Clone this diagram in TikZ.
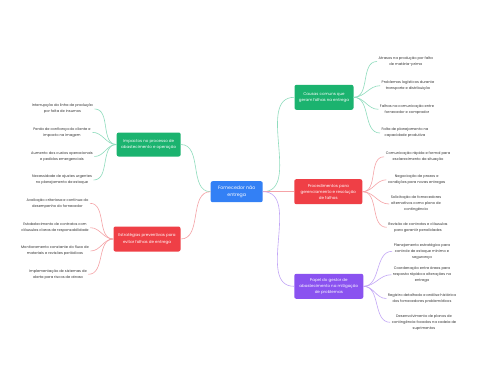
\documentclass[tikz,border=0pt]{standalone}
\usepackage{fontspec}
\setmainfont{Poppins}
\definecolor{cblue}{HTML}{3380F5}
\definecolor{cgreen}{HTML}{1BB36F}
\definecolor{cred}{HTML}{EF3F46}
\definecolor{cpurple}{HTML}{8A52F0}
\definecolor{lgreen}{HTML}{8FDCBD}
\definecolor{lred}{HTML}{F5A3A7}
\definecolor{lpurple}{HTML}{C2A6F6}
\definecolor{ltext}{HTML}{333333}
\begin{document}
\begin{tikzpicture}[x=1pt,y=-1pt,
  box/.style={rounded corners=2pt,text=white,align=center,inner sep=0pt,
    font=\fontsize{4}{6.2}\selectfont},
  leaf/.style={text=ltext,align=center,inner sep=1.5pt,
    font=\fontsize{3.6}{6}\selectfont},
  conn/.style={line width=0.6pt},
]
\useasboundingbox[fill=white] (0,0) rectangle (480,384);
% center
\node[box,fill=cblue,minimum width=52pt,minimum height=21pt,
  font=\fontsize{4.7}{6.7}\selectfont] (c) at (236.7,191.7) {Fornecedor não\\entrega};
% branches
\node[box,fill=cgreen,minimum width=64pt,minimum height=24pt] (gl) at (148.7,144.5)
  {Impactos no processo de\\abastecimento e operação};
\node[box,fill=cred,minimum width=67pt,minimum height=25pt] (rl) at (147,239)
  {Estratégias preventivas para\\evitar falhas de entrega};
\node[box,fill=cgreen,minimum width=59pt,minimum height=25pt] (gr) at (324,97.3)
  {Causas comuns que\\geram falhas na entrega};
\node[box,fill=cred,minimum width=68pt,minimum height=25pt] (rr) at (328.3,191.7)
  {Procedimentos para\\gerenciamento e resolução\\de falhas};
\node[box,fill=cpurple,minimum width=69pt,minimum height=25pt] (pr) at (328.8,286.3)
  {Papel do gestor de\\abastecimento na mitigação\\de problemas};
% center connectors
\draw[conn,lgreen] (c.west) to[out=180,in=0] (gl.east);
\draw[conn,lred] (c.west) to[out=180,in=0] (rl.east);
\draw[conn,lgreen] (c.east) to[out=0,in=180] (gr.west);
\draw[conn,lred] (c.east) to[out=0,in=180] (rr.west);
\draw[conn,lpurple] (c.east) to[out=0,in=180] (pr.west);
% left green leaves
\node[leaf] (gl1) at (62.5,109) {Interrupção da linha de produção\\por falta de insumos};
\node[leaf] (gl2) at (62,132.3) {Perda de confiança do cliente e\\impacto na imagem};
\node[leaf] (gl3) at (62,156.5) {Aumento dos custos operacionais\\e pedidos emergenciais};
\node[leaf] (gl4) at (62,180) {Necessidade de ajustes urgentes\\no planejamento de estoque};
% left red leaves
\node[leaf] (rl1) at (57.5,203.3) {Avaliação criteriosa e contínua do\\desempenho do fornecedor};
\node[leaf] (rl2) at (55,227.7) {Estabelecimento de contratos com\\cláusulas claras de responsabilidade};
\node[leaf] (rl3) at (55,251) {Monitoramento constante do fluxo de\\materiais e revisões periódicas};
\node[leaf] (rl4) at (58,274.3) {Implementação de sistemas de\\alerta para riscos de atraso};
% right green leaves
\node[leaf] (gr1) at (405.8,61.5) {Atrasos na produção por falta\\de matéria-prima};
\node[leaf] (gr2) at (408,85.7) {Problemas logísticos durante\\transporte e distribuição};
\node[leaf] (gr3) at (407,109.3) {Falhas na comunicação entre\\fornecedor e comprador};
\node[leaf] (gr4) at (405,133) {Falta de planejamento na\\capacidade produtiva};
% right red leaves
\node[leaf] (rr1) at (418,156.8) {Comunicação rápida e formal para\\esclarecimento da situação};
\node[leaf] (rr2) at (416.7,179.8) {Negociação de prazos e\\condições para novas entregas};
\node[leaf] (rr3) at (416,204) {Solicitação de fornecedores\\alternativos como plano de\\contingência};
\node[leaf] (rr4) at (418,227.3) {Revisão de contratos e cláusulas\\para garantir penalidades};
% purple leaves
\node[leaf] (pr1) at (422,251.3) {Planejamento estratégico para\\controle de estoque mínimo e\\segurança};
\node[leaf] (pr2) at (422,274.7) {Coordenação entre áreas para\\resposta rápida a alterações na\\entrega};
\node[leaf] (pr3) at (422,298.5) {Registro detalhado e análise histórica\\dos fornecedores problemáticos};
\node[leaf] (pr4) at (424,322.3) {Desenvolvimento de planos de\\contingência focados na cadeia de\\suprimentos};
% leaf connectors
\foreach \i in {1,...,4}{
  \draw[conn,lgreen] (gl.west) to[out=180,in=0] (gl\i.east);
  \draw[conn,lred] (rl.west) to[out=180,in=0] (rl\i.east);
  \draw[conn,lgreen] (gr.east) to[out=0,in=180] (gr\i.west);
  \draw[conn,lred] (rr.east) to[out=0,in=180] (rr\i.west);
  \draw[conn,lpurple] (pr.east) to[out=0,in=180] (pr\i.west);
}
\end{tikzpicture}
\end{document}
